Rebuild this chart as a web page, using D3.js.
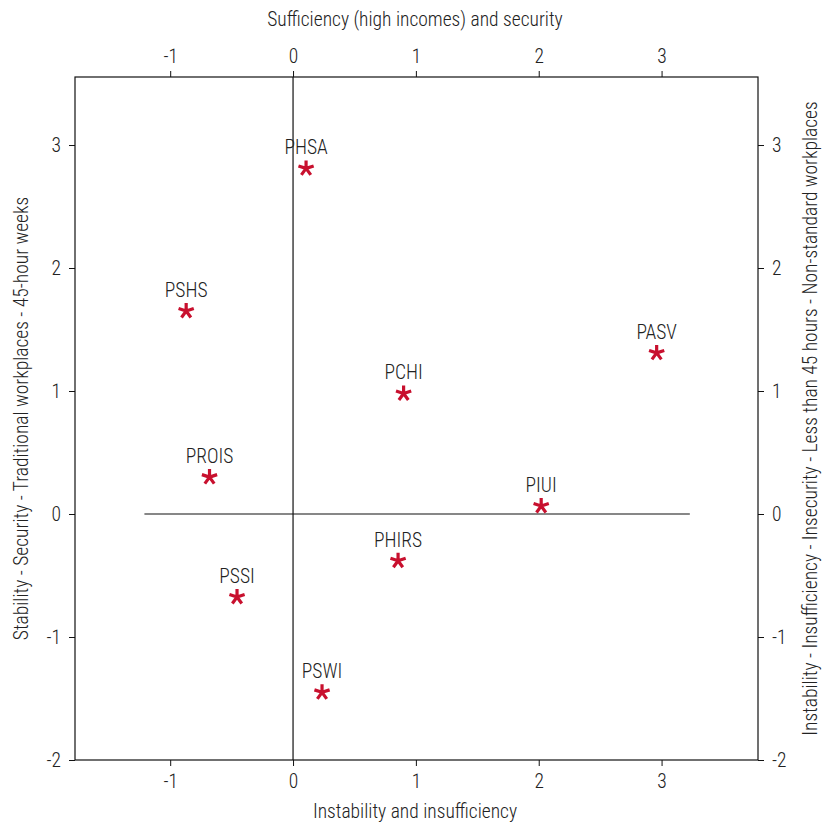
<!DOCTYPE html>
<html>
<head>
<meta charset="utf-8">
<script src="https://cdn.jsdelivr.net/npm/d3@7"></script>
<style>
  body { margin: 0; background: #fff; }
  text { font-family: "Liberation Sans Narrow", "Roboto Condensed", "Arial Narrow", sans-serif; font-weight: 300; fill: #222; }
</style>
</head>
<body>
<svg id="chart" width="823" height="823"></svg>
<script>
// profiles and their coordinates on the two dimensions
var labels = ["PHSA", "PSHS", "PASV", "PCHI", "PROIS", "PIUI", "PHIRS", "PSSI", "PSWI"];
var xVals = [0.106, -0.87, 2.96, 0.90, -0.68, 2.02, 0.855, -0.456, 0.236];
var yVals = [2.81, 1.65, 1.31, 0.98, 0.30, 0.065, -0.38, -0.675, -1.45];

var xTicks = [-1, 0, 1, 2, 3];
var yTicks = [-2, -1, 0, 1, 2, 3];

var topTitle = "Sufficiency (high incomes) and security";
var bottomTitle = "Instability and insufficiency";
var leftTitle = "Stability - Security - Traditional workplaces - 45-hour weeks";
var rightTitle = "Instability - Insufficiency - Insecurity - Less than 45 hours - Non-standard workplaces";

var svg = d3.select("#chart");
var pLeft = 75, pRight = 758, pTop = 77, pBottom = 760;
var fs = "19.5px";

var x = d3.scaleLinear().domain([-1.775, 3.785]).range([pLeft, pRight]);
var y = d3.scaleLinear().domain([-2, 3.553]).range([pBottom, pTop]);

var fmt = function(d) { return String(d); };

function styleAxis(g) {
  g.select(".domain").remove();
  g.selectAll(".tick line").attr("stroke", "#111");
  g.selectAll(".tick text").style("font-size", fs).attr("fill", "#222");
}

svg.append("g").attr("transform", "translate(0," + pBottom + ")")
  .call(d3.axisBottom(x).tickValues(xTicks).tickSize(6).tickPadding(8).tickFormat(fmt))
  .call(styleAxis);
svg.append("g").attr("transform", "translate(0," + pTop + ")")
  .call(d3.axisTop(x).tickValues(xTicks).tickSize(6).tickPadding(8).tickFormat(fmt))
  .call(styleAxis);
svg.append("g").attr("transform", "translate(" + pLeft + ",0)")
  .call(d3.axisLeft(y).tickValues(yTicks).tickSize(6).tickPadding(8).tickFormat(fmt))
  .call(styleAxis);
svg.append("g").attr("transform", "translate(" + pRight + ",0)")
  .call(d3.axisRight(y).tickValues(yTicks).tickSize(6).tickPadding(8).tickFormat(fmt))
  .call(styleAxis);

// frame
svg.append("rect")
  .attr("x", pLeft).attr("y", pTop)
  .attr("width", pRight - pLeft).attr("height", pBottom - pTop)
  .style("fill", "none").style("stroke", "#111").style("stroke-width", 1.2);

// reference lines
svg.append("line")
  .attr("x1", x(0)).attr("x2", x(0)).attr("y1", pTop).attr("y2", pBottom)
  .style("stroke", "#111").style("stroke-width", 1.2);
svg.append("line")
  .attr("x1", x(-1.21)).attr("x2", x(3.23)).attr("y1", y(0)).attr("y2", y(0))
  .style("stroke", "#111").style("stroke-width", 1.2);

// titles
svg.append("text").attr("x", 415).attr("y", 26).attr("text-anchor", "middle")
  .style("font-size", fs).text(topTitle);
svg.append("text").attr("x", 415).attr("y", 818).attr("text-anchor", "middle")
  .style("font-size", fs).text(bottomTitle);
svg.append("text").attr("transform", "translate(28," + (pTop + pBottom) / 2 + ") rotate(-90)")
  .attr("text-anchor", "middle").style("font-size", fs).text(leftTitle);
svg.append("text").attr("transform", "translate(817," + (pTop + pBottom) / 2 + ") rotate(-90)")
  .attr("text-anchor", "middle").style("font-size", fs).text(rightTitle);

// markers: five-armed asterisks
function star(cx, cy, r) {
  var p = "";
  for (var k = 0; k < 5; k++) {
    var a = -Math.PI / 2 + k * 2 * Math.PI / 5;
    p += "M" + cx + "," + cy + "L" + (cx + r * Math.cos(a)) + "," + (cy + r * Math.sin(a));
  }
  return p;
}

labels.forEach(function(d, i) {
  var px = x(xVals[i]), py = y(yVals[i]);
  svg.append("path").attr("d", star(px, py, 8))
    .style("stroke", "#c8102e").style("stroke-width", 3.2).style("stroke-linecap", "butt").style("fill", "none");
  svg.append("text").attr("x", px).attr("y", py - 14).attr("text-anchor", "middle")
    .style("font-size", fs).text(d);
});
</script>
</body>
</html>
